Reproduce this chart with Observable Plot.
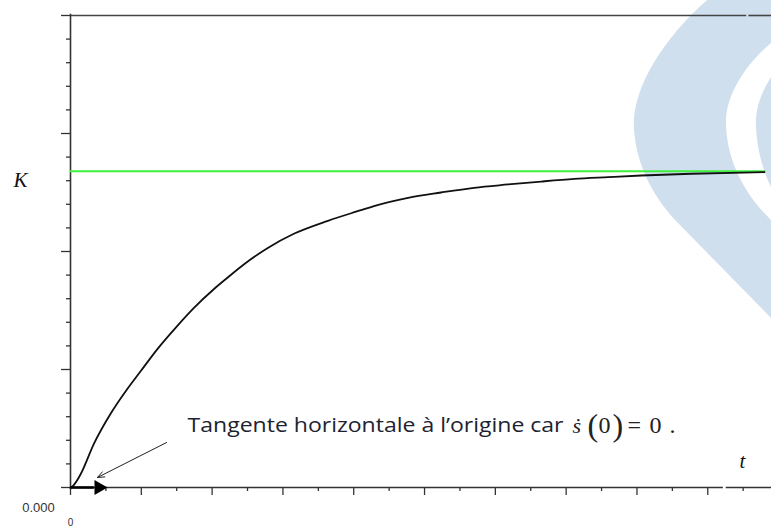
<!DOCTYPE html>
<html>
<head>
<meta charset="utf-8">
<script src="https://cdn.jsdelivr.net/npm/d3@7"></script>
<script src="https://cdn.jsdelivr.net/npm/@observablehq/plot@0.6"></script>
<style>
  html, body { margin: 0; padding: 0; background: #fff; }
  #wrap { position: relative; width: 771px; height: 526px; overflow: hidden; }
  #wm { position: absolute; left: 0; top: 0; z-index: 0; }
  #chart { position: absolute; left: 0; top: 0; z-index: 1; }
</style>
</head>
<body>
<div id="wrap">
  <!-- decorative watermark (not data) -->
  <svg id="wm" width="771" height="526" viewBox="0 0 771 526">
    <path fill="#cfdfee" d="M707,0 C662,40 631,90 634,130 C637,168 655,200 680,225 L771,318 L771,220 C745,195 726,160 726,122 C726,95 745,65 771,43 L771,0 Z"/>
    <path fill="#cfdfee" d="M771,77 C760,95 755,110 756,128 C757,150 763,170 771,187 Z"/>
  </svg>
  <div id="chart"></div>
</div>
<script>
// step response (t in x-major-tick units, s in y-major-tick units)
const tValues = [0, 0.024, 0.141, 0.330, 0.566, 0.802, 0.990, 1.230, 1.509, 1.740, 2.023, 2.221, 2.447, 2.786, 3.154, 3.635, 4.102, 4.286, 4.767, 5.233, 5.700, 6.181, 6.648, 7.115, 7.595, 8.062, 8.77, 9.80];
const sValues = [0, 0.008, 0.110, 0.370, 0.625, 0.835, 0.985, 1.175, 1.370, 1.520, 1.680, 1.780, 1.890, 2.030, 2.150, 2.260, 2.350, 2.385, 2.455, 2.500, 2.540, 2.568, 2.593, 2.615, 2.630, 2.644, 2.659, 2.672];
const K = 2.68;
const tMax = 9.9;
const sMax = 4;
const xMajor = d3.range(0, 10, 1);
const xMinor = d3.range(0.5, 10, 1);
const yMajor = d3.range(0, 4.01, 1);
const yMinor = d3.range(0.2, 4, 0.2).filter(v => Math.abs(v - Math.round(v)) > 0.01);
// annotation anchors (data units)
const noteAnchor = [{t: 1.653, s: 0.525}];
const tangentArrow = [{t1: 1.356, s1: 0.381, t2: 0.381, s2: 0.085}];
const originArrow = [{t1: 0, s1: 0, t2: 0.33, s2: 0}];
const originHead = [{t: 0.40, s: 0}];

const curve = tValues.map((t, i) => ({t, s: sValues[i]}));

const annFont = "'Open Sans', 'Noto Sans', sans-serif";
const serif = "'Liberation Serif', 'DejaVu Serif', serif";

const chart = Plot.plot({
  width: 771,
  height: 526,
  marginLeft: 70,
  marginRight: 0,
  marginTop: 15,
  marginBottom: 39,
  style: {background: "transparent", overflow: "visible"},
  x: {domain: [0, tMax]},
  y: {domain: [0, sMax]},
  marks: [
    // top border line (with small gap)
    Plot.ruleY([sMax], {x1: 0, x2: 9.55, stroke: "#444", strokeWidth: 1.6}),
    Plot.ruleY([sMax], {x1: 9.58, x2: tMax, stroke: "#444", strokeWidth: 1.6}),
    // x axis line (with small gap)
    Plot.ruleY([0], {x1: 0, x2: 9.22, stroke: "#333", strokeWidth: 1.4}),
    Plot.ruleY([0], {x1: 9.26, x2: tMax, stroke: "#333", strokeWidth: 1.4}),
    // y axis line
    Plot.ruleX([0], {y1: -0.02, y2: sMax + 0.01, stroke: "#333", strokeWidth: 1.6}),
    Plot.axisX(xMajor, {anchor: "bottom", tickSize: 8, tickFormat: () => "", label: null, stroke: "#333", strokeWidth: 1.3}),
    Plot.axisX(xMinor, {anchor: "bottom", tickSize: 4, tickFormat: () => "", label: null, stroke: "#333", strokeWidth: 1.3}),
    Plot.axisY(yMajor, {anchor: "left", tickSize: 9, tickFormat: () => "", label: null, stroke: "#333", strokeWidth: 1.3}),
    Plot.axisY(yMinor, {anchor: "left", tickSize: 4, tickFormat: () => "", label: null, stroke: "#333", strokeWidth: 1.3}),
    // asymptote K
    Plot.ruleY([K], {x1: 0, x2: 9.82, stroke: "#3ef03e", strokeWidth: 1.8}),
    // response curve
    Plot.line(curve, {x: "t", y: "s", stroke: "#111", strokeWidth: 1.8, curve: "monotone-x"}),
    // arrow along origin
    Plot.link(originArrow, {x1: "t1", y1: "s1", x2: "t2", y2: "s2", stroke: "#000", strokeWidth: 2.6}),
    Plot.dot(originHead, {x: "t", y: "s", symbol: "triangle", rotate: 90, r: 5.6, fill: "#000", stroke: "none"}),
    // tangent annotation arrow
    Plot.arrow(tangentArrow, {x1: "t1", y1: "s1", x2: "t2", y2: "s2", stroke: "#222", strokeWidth: 1, headLength: 11, headAngle: 45}),
    // labels
    Plot.text(["K"], {x: 0, y: K, dx: -50, dy: 9, text: d => d, fontFamily: serif, fontStyle: "italic", fontSize: 21, fill: "#111", textAnchor: "middle"}),
    Plot.text(["0.000"], {x: 0, y: 0, dx: -32, dy: 20, text: d => d, fontFamily: "'Liberation Sans', Arial, sans-serif", fontSize: 13, fill: "#333", textAnchor: "middle"}),
    Plot.text(["0"], {x: 0, y: 0, dy: 38, text: d => d, fontFamily: "'Liberation Sans', Arial, sans-serif", fontSize: 10, fill: "#333", textAnchor: "middle", lineAnchor: "bottom"}),
    Plot.text(["t"], {x: 9.49, y: 0, dy: -26, text: d => d, fontFamily: serif, fontStyle: "italic", fontSize: 21, fill: "#111", textAnchor: "middle"}),
    Plot.text(noteAnchor, {x: "t", y: "s", text: () => "Tangente horizontale à l’origine car", fontFamily: annFont, fontSize: 20.5, fill: "#1c2330", textAnchor: "start", className: "annot"}),
    Plot.text(noteAnchor, {x: "t", y: "s", dx: 385, dy: 0, text: () => "ṡ", fontFamily: serif, fontStyle: "italic", fontSize: 22, fill: "#222", textAnchor: "start"}),
    Plot.text(noteAnchor, {x: "t", y: "s", dx: 400, dy: 0, text: () => "(", fontFamily: serif, fontSize: 32, fill: "#222", textAnchor: "start"}),
    Plot.text(noteAnchor, {x: "t", y: "s", dx: 411, dy: 0, text: () => "0", fontFamily: serif, fontSize: 24, fill: "#222", textAnchor: "start"}),
    Plot.text(noteAnchor, {x: "t", y: "s", dx: 425, dy: 0, text: () => ")", fontFamily: serif, fontSize: 32, fill: "#222", textAnchor: "start"}),
    Plot.text(noteAnchor, {x: "t", y: "s", dx: 440, dy: 0, text: () => "=", fontFamily: serif, fontSize: 24, fill: "#222", textAnchor: "start"}),
    Plot.text(noteAnchor, {x: "t", y: "s", dx: 462, dy: 0, text: () => "0", fontFamily: serif, fontSize: 24, fill: "#222", textAnchor: "start"}),
    Plot.text(noteAnchor, {x: "t", y: "s", dx: 482, dy: 0, text: () => ".", fontFamily: serif, fontSize: 24, fill: "#222", textAnchor: "start"})
  ]
});
d3.select(chart).selectAll(".annot text").attr("textLength", 376).attr("lengthAdjust", "spacingAndGlyphs");
document.getElementById("chart").appendChild(chart);
</script>
</body>
</html>
